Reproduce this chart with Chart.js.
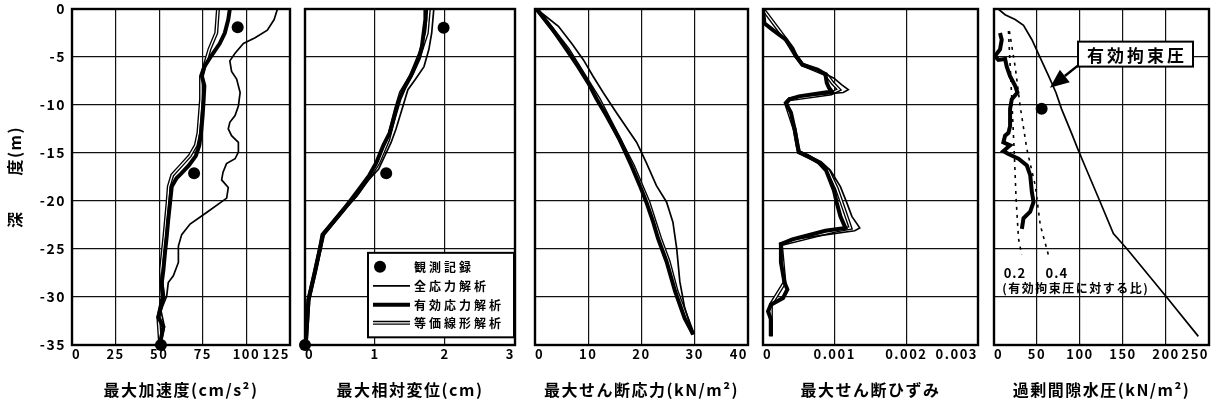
<!DOCTYPE html>
<html>
<head>
<meta charset="utf-8">
<script src="https://cdn.jsdelivr.net/npm/chart.js@4.4.1/dist/chart.umd.min.js"></script>
<style>
  html, body { margin: 0; padding: 0; background: #fff; }
  #wrap { position: relative; width: 1224px; height: 408px; overflow: hidden; }
  .pane { position: absolute; top: 0; height: 408px; }
</style>
</head>
<body>
<div id="wrap"></div>
<script>
// ---- ticks / labels ----
const depthTicks = [0, -5, -10, -15, -20, -25, -30, -35];
const accTicks = [0, 25, 50, 75, 100, 125];
const dispTicks = [0, 1, 2, 3];
const stressTicks = [0, 10, 20, 30, 40];
const strainTicks = [0, 0.001, 0.002, 0.003];
const porTicks = [0, 50, 100, 150, 200, 250];
const xTitles = ["最大加速度(cm/s²)", "最大相対変位(cm)", "最大せん断応力(kN/m²)", "最大せん断ひずみ", "過剰間隙水圧(kN/m²)"];
const depthTitle = "深　　度(m)";
const legendLabels = ["観測記録", "全応力解析", "有効応力解析", "等価線形解析"];
const confLabel = "有効拘束圧";
const ratioLabels = ["0.2", "0.4"];
const ratioNote = "(有効拘束圧に対する比)";

// ---- 最大加速度 ----
const accObsX = [95, 70, 51];
const accObsD = [-1.9, -17.1, -35];
const accTotD = [0, -1.1, -2.2, -3.0, -3.6, -4.6, -5.4, -6.5, -7.3, -8.7, -10.1, -11.1, -11.8, -12.5, -13.2, -13.9, -14.9, -15.6, -16.1, -17.0, -17.8, -18.6, -19.7, -20.2, -21.2, -22.4, -23.5, -24.7, -26.4, -27.8, -28.5, -29.9, -31.4, -33.1, -34.8];
const accTotX = [117.8, 115.9, 112.0, 105.0, 98.3, 93.5, 90.5, 91.5, 94.4, 96.4, 95.4, 93.5, 90.5, 89.6, 91.5, 95.4, 95.4, 93.5, 88.6, 86.6, 85.8, 89.6, 88.7, 84.9, 77.2, 67.7, 62.9, 61.0, 61.0, 58.1, 55.2, 54.3, 51.0, 53.0, 51.0];
const accEffD = [0, -1.1, -2.5, -3.6, -4.9, -6.0, -7.0, -8.0, -9.4, -11.1, -12.9, -14.2, -15.3, -16.3, -17.2, -17.6, -18.5, -20.2, -21.9, -23.7, -25.4, -27.2, -28.6, -30.0, -31.4, -32.1, -33.1, -34.8];
const accEffX = [90.5, 89.6, 87.6, 84.7, 79.8, 75.9, 74.5, 75.9, 75.5, 74.9, 74.0, 73.0, 71.0, 67.0, 62.3, 60.0, 57.2, 56.2, 55.2, 54.3, 53.3, 52.4, 51.4, 52.4, 50.5, 49.5, 52.4, 50.5];
const accEqlD = [0, -2.5, -4.2, -6.0, -7.0, -9.4, -12.9, -14.2, -15.3, -16.3, -17.3, -18.5, -20.2, -23.7, -27.2, -30.0, -32.1, -34.8];
const accEqlX = [83.7, 82.7, 78.8, 75.9, 74.0, 74.0, 72.5, 71.0, 67.5, 62.5, 57.5, 55.5, 54.8, 53.0, 51.0, 52.0, 49.5, 50.5];

// ---- 最大相対変位 ----
const dispObsX = [1.98, 1.16, 0];
const dispObsD = [-1.95, -17.1, -35];
const dispTotD = [0, -2.5, -4.2, -6.0, -7.3, -8.4, -10.1, -12.5, -13.9, -15.3, -16.7, -18.0, -19.5, -20.9, -23.5, -25.1, -27.5, -30.3, -35];
const dispTotX = [1.84, 1.81, 1.77, 1.70, 1.58, 1.47, 1.40, 1.30, 1.23, 1.14, 1.05, 0.88, 0.74, 0.56, 0.27, 0.22, 0.15, 0.06, 0.01];
const dispEffD = [0, -1.1, -3.9, -5.1, -6.7, -8.2, -9.4, -11.1, -12.9, -14.2, -16.0, -17.3, -18.7, -20.9, -23.5, -25.1, -27.5, -30.3, -35];
const dispEffX = [1.72, 1.72, 1.67, 1.63, 1.53, 1.42, 1.35, 1.28, 1.21, 1.12, 1.02, 0.92, 0.78, 0.55, 0.25, 0.21, 0.14, 0.05, 0.01];
const dispEqlD = [0, -2.5, -4.5, -7.0, -8.7, -10.4, -13.6, -16.0, -17.5, -19.2, -20.9, -23.5, -25.1, -30.3, -35];
const dispEqlX = [1.77, 1.74, 1.65, 1.51, 1.37, 1.30, 1.19, 1.05, 0.92, 0.75, 0.55, 0.26, 0.21, 0.05, 0.01];

// ---- 最大せん断応力 ----
const strTotD = [0, -1.8, -3.6, -5.3, -7.0, -8.7, -10.8, -13.9, -16.0, -18.4, -20.1, -22.2, -24.9, -28.4, -31.1, -33.9];
const strTotX = [0.3, 4.4, 6.9, 9.1, 10.9, 12.8, 15.3, 19.1, 20.9, 22.8, 24.7, 25.9, 26.6, 27.2, 28.1, 29.7];
const strEffD = [0, -2.2, -4.2, -6.0, -7.7, -9.4, -11.1, -13.6, -16.3, -18.4, -20.1, -22.2, -23.9, -26.3, -29.4, -32.2, -33.9];
const strEffX = [0.3, 3.4, 5.9, 8.1, 10.0, 11.6, 13.4, 15.9, 18.1, 19.7, 20.9, 22.2, 23.1, 24.7, 26.3, 28.1, 29.7];
const strEqlD = [0, -4.2, -9.4, -16.3, -20.1, -23.9, -26.3, -29.4, -33.9];
const strEqlX = [0.3, 6.2, 12.0, 18.4, 21.3, 23.5, 25.1, 26.6, 29.7];

// ---- 最大せん断ひずみ ----
const stnTotD = [0, -1.5, -2.2, -3.2, -4.1, -4.9, -5.8, -6.3, -6.8, -7.2, -7.9, -8.4, -8.7, -9.1, -9.4, -9.8, -10.8, -12.5, -14.2, -14.9, -15.3, -16.0, -16.8, -18.5, -20.2, -21.6, -22.8, -23.1, -24.0, -24.5, -26.4, -28.5, -29.2, -30.1, -30.8, -31.5, -32.3, -34.1];
const stnTotX = [0, 0.00002, 0.00014, 0.00032, 0.00041, 0.00046, 0.00055, 0.00076, 0.00088, 0.00099, 0.00110, 0.00119, 0.00112, 0.00050, 0.00037, 0.00032, 0.00039, 0.00044, 0.00048, 0.00050, 0.00063, 0.00082, 0.00094, 0.00108, 0.00117, 0.00124, 0.00135, 0.00128, 0.00042, 0.00025, 0.00025, 0.00030, 0.00034, 0.00028, 0.00011, 0.00007, 0.00011, 0.00011];
const stnEffD = [0, -1.5, -2.2, -3.2, -4.1, -4.9, -5.8, -6.3, -6.8, -7.7, -8.2, -8.6, -9.1, -9.4, -9.8, -10.8, -12.5, -14.2, -14.9, -15.3, -16.0, -16.8, -18.9, -20.2, -21.6, -22.8, -23.1, -24.0, -24.5, -26.4, -28.5, -29.2, -30.1, -30.8, -31.5, -32.3, -34.1];
const stnEffX = [0, 0.00002, 0.00014, 0.00032, 0.00041, 0.00046, 0.00055, 0.00076, 0.00087, 0.00089, 0.00092, 0.00096, 0.00050, 0.00037, 0.00032, 0.00039, 0.00044, 0.00048, 0.00050, 0.00062, 0.00078, 0.00088, 0.00099, 0.00103, 0.00108, 0.00115, 0.00087, 0.00041, 0.00025, 0.00025, 0.00030, 0.00034, 0.00028, 0.00011, 0.00007, 0.00011, 0.00011];
const stnEqlD = [0, -3.2, -4.9, -5.8, -6.8, -7.7, -8.4, -8.8, -9.4, -9.8, -12.5, -14.9, -16.0, -16.8, -18.7, -20.2, -22.8, -23.1, -24.5, -28.5, -30.8, -34.1];
const stnEqlX = [0, 0.00032, 0.00046, 0.00055, 0.00088, 0.00097, 0.00106, 0.00095, 0.00037, 0.00032, 0.00044, 0.00050, 0.00080, 0.00091, 0.00103, 0.00110, 0.00122, 0.00100, 0.00025, 0.00030, 0.00011, 0.00011];

// ---- 過剰間隙水圧 ----
const porObsX = [55.4];
const porObsD = [-10.4];
const confD = [0, -0.6, -1.1, -1.7, -3.2, -5.1, -7.0, -8.7, -10.4, -12.9, -14.6, -16.3, -18.1, -20.0, -23.4, -25.0, -30.0, -34.1];
const confX = [5.0, 12.9, 24.6, 34.3, 44.1, 53.8, 63.6, 72.0, 78.5, 90.0, 97.5, 105.5, 114.0, 123.0, 138.8, 154.7, 200.6, 237.6];
const porEffD = [-2.5, -3.2, -4.2, -4.9, -5.3, -5.2, -6.0, -7.0, -8.0, -8.7, -9.4, -10.4, -12.2, -12.9, -13.2, -13.9, -14.2, -14.8, -15.1, -15.6, -16.3, -17.3, -19.1, -20.1, -21.1, -21.8, -22.9];
const porEffX = [7.0, 9.0, 7.0, 1.2, 5.1, 12.9, 14.8, 18.7, 24.6, 27.3, 20.7, 18.7, 18.7, 16.8, 12.9, 10.9, 18.7, 10.9, 16.8, 28.5, 38.2, 42.1, 44.1, 46.0, 42.1, 34.3, 32.4];
const ratio02D = [-2.3, -9.4, -14.6, -19.8, -23.9, -25.6];
const ratio02X = [16.8, 20.7, 23.4, 25.7, 28.5, 32.2];
const ratio04D = [-2.3, -6.0, -10.1, -14.6, -18.4, -22.5, -25.6];
const ratio04X = [17.9, 24.6, 30.4, 38.2, 48.0, 53.8, 63.2];

// ---- layout ----
const PANEL_LEFT = [72, 305, 535, 763, 994];
const PANEL_RIGHT = [290, 515, 748, 978, 1209];
const FONT = "'Noto Sans CJK JP', 'Noto Sans', sans-serif";

const pts = (xs, ds) => xs.map((v, i) => ({ x: v, y: ds[i] }));
const line = (xs, ds, extra) => Object.assign({ data: pts(xs, ds), showLine: true, pointRadius: 0, borderColor: "#000", fill: false, tension: 0 }, extra);
const thin = (xs, ds) => line(xs, ds, { borderWidth: 1.7, order: 1 });
const thick = (xs, ds) => line(xs, ds, { borderWidth: 4, order: 2 });
const dbl = (xs, ds) => [
  line(xs, ds, { borderWidth: 4, order: 4 }),
  line(xs, ds, { borderWidth: 1.3, borderColor: "#fff", order: 3 }),
];
const obs = (xs, ds) => ({ data: pts(xs, ds), showLine: false, pointRadius: 6, pointHoverRadius: 6, backgroundColor: "#000", borderWidth: 0, clip: false, order: 0 });

const frame = {
  id: "frame",
  beforeDraw(c) { c.ctx.letterSpacing = "1.5px"; },
  afterDatasetsDraw(c) {
    const a = c.chartArea, ctx = c.ctx;
    ctx.save();
    ctx.strokeStyle = "#000";
    ctx.lineWidth = 2.4;
    ctx.strokeRect(a.left, a.top, a.right - a.left, a.bottom - a.top);
    ctx.restore();
  },
};

const legendBox = {
  id: "legendBox",
  afterDraw(c) {
    const { x: xs, y: ys } = c.scales, ctx = c.ctx;
    const L = xs.getPixelForValue(0.9), R = xs.getPixelForValue(3) - 1;
    const T = ys.getPixelForValue(-25.4), B = ys.getPixelForValue(-34.2);
    ctx.save();
    ctx.fillStyle = "#fff";
    ctx.fillRect(L, T, R - L, B - T);
    ctx.strokeStyle = "#000";
    ctx.lineWidth = 2;
    ctx.strokeRect(L, T, R - L, B - T);
    const rows = [14, 33, 52, 70];
    ctx.fillStyle = "#000";
    ctx.beginPath(); ctx.arc(L + 12, T + rows[0], 6, 0, Math.PI * 2); ctx.fill();
    const seg = (y, w, col) => { ctx.beginPath(); ctx.moveTo(L + 5, y); ctx.lineTo(L + 42, y); ctx.lineWidth = w; ctx.strokeStyle = col; ctx.stroke(); };
    seg(T + rows[1], 1.7, "#000");
    seg(T + rows[2], 4, "#000");
    seg(T + rows[3], 4, "#000");
    seg(T + rows[3], 1.3, "#fff");
    ctx.font = "bold 12px " + FONT;
    ctx.letterSpacing = "3px";
    ctx.textBaseline = "middle";
    ctx.fillStyle = "#000";
    legendLabels.forEach((t, i) => ctx.fillText(t, L + 46, T + rows[i] + 1));
    ctx.restore();
  },
};

const confNote = {
  id: "confNote",
  afterDraw(c) {
    const X = (v) => c.scales.x.getPixelForValue(v), Y = (d) => c.scales.y.getPixelForValue(d);
    const ctx = c.ctx;
    ctx.save();
    const bl = X(97.7), br = X(231.4), bt = Y(-3.4), bb = Y(-6.0);
    ctx.fillStyle = "#fff";
    ctx.fillRect(bl, bt, br - bl, bb - bt);
    ctx.strokeStyle = "#000";
    ctx.lineWidth = 2;
    ctx.strokeRect(bl, bt, br - bl, bb - bt);
    ctx.fillStyle = "#000";
    ctx.font = "bold 17px " + FONT;
    ctx.letterSpacing = "3px";
    ctx.textAlign = "center";
    ctx.textBaseline = "middle";
    ctx.fillText(confLabel, (bl + br) / 2 + 1.5, (bt + bb) / 2 + 1);
    // arrow
    const x0 = X(97.5), y0 = Y(-5.9), x1 = X(65), y1 = Y(-8.2);
    const ang = Math.atan2(y1 - y0, x1 - x0), hl = 19, hw = 8;
    const bx = x1 - hl * Math.cos(ang), by = y1 - hl * Math.sin(ang);
    ctx.beginPath(); ctx.moveTo(x0, y0); ctx.lineTo(bx, by); ctx.lineWidth = 2.5; ctx.stroke();
    ctx.beginPath();
    ctx.moveTo(x1, y1);
    ctx.lineTo(bx + hw * Math.sin(ang), by - hw * Math.cos(ang));
    ctx.lineTo(bx - hw * Math.sin(ang), by + hw * Math.cos(ang));
    ctx.closePath(); ctx.fill();
    // ratio labels
    ctx.font = "bold 13px " + FONT;
    ctx.letterSpacing = "1px";
    ctx.fillText(ratioLabels[0], X(24.4), Y(-27.5));
    ctx.fillText(ratioLabels[1], X(73), Y(-27.5));
    ctx.font = "bold 12px " + FONT;
    ctx.letterSpacing = "1.5px";
    ctx.fillText(ratioNote, X(95), Y(-29.1));
    ctx.restore();
  },
};

const wrap = document.getElementById("wrap");

function panel(i, xMax, xTicks, datasets, plugins) {
  const first = i === 0;
  const yW = first ? 72 : 0, padL = first ? 0 : 26, padR = 26;
  const left = PANEL_LEFT[i] - yW - padL;
  const w = PANEL_RIGHT[i] + padR - left;
  const div = document.createElement("div");
  div.className = "pane";
  div.style.left = left + "px";
  div.style.width = w + "px";
  const cv = document.createElement("canvas");
  cv.width = w; cv.height = 408;
  div.appendChild(cv);
  wrap.appendChild(div);
  const xTickFont = { family: FONT, size: 13, weight: "bold" };
  const yTickFont = { family: FONT, size: 14, weight: "bold" };
  const titleFont = { family: FONT, size: 16, weight: "bold" };
  new Chart(cv, {
    type: "scatter",
    data: { datasets },
    plugins: [frame].concat(plugins || []),
    options: {
      responsive: false,
      animation: false,
      devicePixelRatio: 1,
      layout: { padding: { left: padL, right: padR, top: 9, bottom: 0 } },
      plugins: { legend: { display: false }, tooltip: { enabled: false } },
      scales: {
        x: {
          type: "linear", min: 0, max: xMax,
          afterBuildTicks: (s) => { s.ticks = xTicks.map((v) => ({ value: v })); },
          afterFit: (s) => { s.height = 63; s.paddingLeft = 0; s.paddingRight = 0; },
          grid: { color: "#111", lineWidth: 1.2, drawTicks: false },
          border: { display: false },
          ticks: { color: "#000", font: xTickFont, padding: 1, align: "inner", maxRotation: 0, autoSkip: false, callback: (v) => String(v) },
          title: { display: true, text: xTitles[i], color: "#000", font: titleFont, padding: { top: 0, bottom: 8 } },
        },
        y: {
          type: "linear", min: -35, max: 0,
          afterBuildTicks: (s) => { s.ticks = depthTicks.map((v) => ({ value: v })); },
          afterFit: (s) => { s.width = yW; s.paddingTop = 0; s.paddingBottom = 0; },
          grid: { color: "#111", lineWidth: 1.2, drawTicks: false },
          border: { display: false },
          ticks: { display: first, color: "#000", font: yTickFont, padding: 6, callback: (v) => String(v) },
          title: { display: first, text: depthTitle, color: "#000", font: titleFont, padding: { top: 5, bottom: 0 } },
        },
      },
    },
  });
}

panel(0, 125, accTicks, [
  obs(accObsX, accObsD), thin(accTotX, accTotD), thick(accEffX, accEffD), ...dbl(accEqlX, accEqlD),
]);
panel(1, 3, dispTicks, [
  obs(dispObsX, dispObsD), thin(dispTotX, dispTotD), thick(dispEffX, dispEffD), ...dbl(dispEqlX, dispEqlD),
], [legendBox]);
panel(2, 40, stressTicks, [
  thin(strTotX, strTotD), thick(strEffX, strEffD), ...dbl(strEqlX, strEqlD),
]);
panel(3, 0.003, strainTicks, [
  thin(stnTotX, stnTotD), thick(stnEffX, stnEffD), ...dbl(stnEqlX, stnEqlD),
]);
panel(4, 250, porTicks, [
  obs(porObsX, porObsD), thin(confX, confD), thick(porEffX, porEffD),
  line(ratio02X, ratio02D, { borderWidth: 1.6, borderDash: [3, 5], order: 5 }),
  line(ratio04X, ratio04D, { borderWidth: 1.6, borderDash: [3, 5], order: 5 }),
], [confNote]);
</script>
</body>
</html>
